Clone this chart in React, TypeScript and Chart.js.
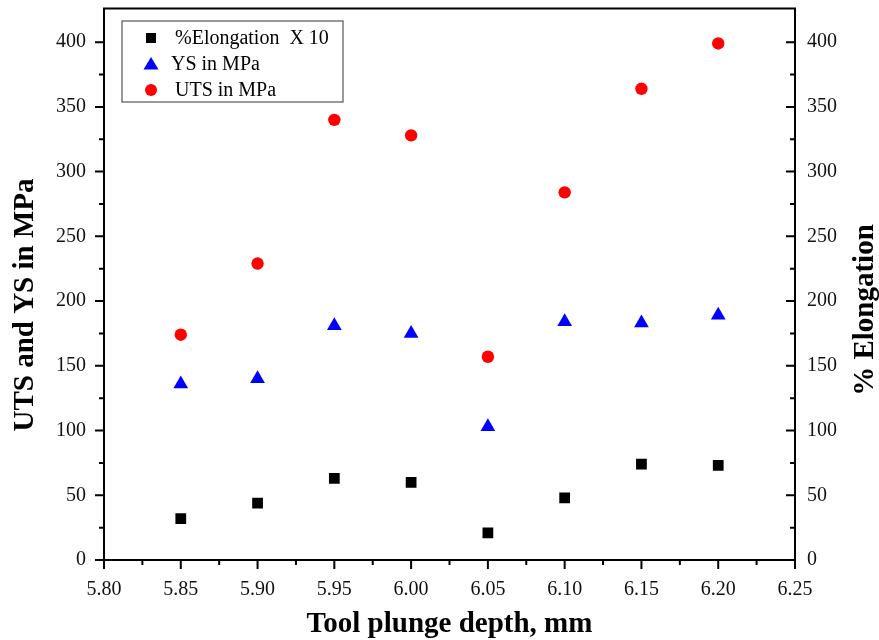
import React, { useEffect, useRef } from "react";
import { Chart, registerables } from "chart.js";

Chart.register(...registerables);

// ---- data ----
const depthMM = [5.85, 5.9, 5.95, 6.0, 6.05, 6.1, 6.15, 6.2];
const elongationX10 = [32, 44, 63, 60, 21, 48, 74, 73];
const ysMPa = [136, 140, 181, 175, 103, 184, 183, 189];
const utsMPa = [174, 229, 340, 328, 157, 284, 364, 399];

const xTickValues = [5.8, 5.85, 5.9, 5.95, 6.0, 6.05, 6.1, 6.15, 6.2, 6.25];
const yTickValues = [0, 50, 100, 150, 200, 250, 300, 350, 400];

const seriesLabels = ["%Elongation  X 10", "YS in MPa", "UTS in MPa"];
const xTitle = "Tool plunge depth, mm";
const yTitle = "UTS and YS in MPa";
const y2Title = "% Elongation";

const FONT = '"Liberation Serif", "Times New Roman", serif';

const framePlugin = {
  id: "frameAndDecor",
  afterDraw(chart: any) {
    const ctx = chart.ctx;
    const { left, right, top, bottom } = chart.chartArea;
    const xs = chart.scales.x;
    const ys = chart.scales.y;
    ctx.save();
    ctx.strokeStyle = "#000";
    ctx.lineWidth = 2;
    ctx.strokeRect(left, top, right - left, bottom - top);

    ctx.lineWidth = 2;
    ctx.beginPath();
    // x ticks (outward)
    for (let i = 0; i < xTickValues.length; i++) {
      const px = xs.getPixelForValue(xTickValues[i]);
      ctx.moveTo(px, bottom);
      ctx.lineTo(px, bottom + 9);
      if (i < xTickValues.length - 1) {
        const mx = xs.getPixelForValue((xTickValues[i] + xTickValues[i + 1]) / 2);
        ctx.moveTo(mx, bottom);
        ctx.lineTo(mx, bottom + 5);
      }
    }
    // y ticks: left outward, right inward
    for (let i = 0; i < yTickValues.length; i++) {
      const py = ys.getPixelForValue(yTickValues[i]);
      ctx.moveTo(left, py);
      ctx.lineTo(left - 9, py);
      ctx.moveTo(right, py);
      ctx.lineTo(right - 9, py);
      const mv = yTickValues[i] + 25;
      const my = ys.getPixelForValue(mv);
      if (my > top + 2) {
        ctx.moveTo(left, my);
        ctx.lineTo(left - 5, my);
        ctx.moveTo(right, my);
        ctx.lineTo(right - 5, my);
      }
    }
    ctx.stroke();

    // axis titles
    ctx.fillStyle = "#000";
    ctx.font = `bold 29px ${FONT}`;
    ctx.textAlign = "center";
    ctx.textBaseline = "alphabetic";
    ctx.fillText(xTitle, (left + right) / 2, 632);

    ctx.save();
    ctx.translate(26, 305);
    ctx.rotate(-Math.PI / 2);
    ctx.textBaseline = "middle";
    ctx.fillText(yTitle, 0, 0);
    ctx.restore();

    ctx.save();
    ctx.translate(866, 310);
    ctx.rotate(-Math.PI / 2);
    ctx.textBaseline = "middle";
    ctx.fillText(y2Title, 0, 0);
    ctx.restore();

    // legend box
    const bx = 122, by = 21, bw = 221, bh = 81;
    ctx.lineWidth = 1.2;
    ctx.strokeStyle = "#555";
    ctx.strokeRect(bx, by, bw, bh);
    const rowsY = [38, 64, 90];
    const textX = [175, 171, 175];
    chart.data.datasets.forEach((ds: any, i: number) => {
      const cx = 151;
      const cy = rowsY[i];
      ctx.fillStyle = ds.backgroundColor;
      ctx.beginPath();
      if (ds.pointStyle === "rect") {
        ctx.rect(cx - 5, cy - 5, 10, 10);
      } else if (ds.pointStyle === "triangle") {
        ctx.moveTo(cx, cy - 7);
        ctx.lineTo(cx + 7.5, cy + 5.5);
        ctx.lineTo(cx - 7.5, cy + 5.5);
        ctx.closePath();
      } else {
        ctx.arc(cx, cy, 6, 0, Math.PI * 2);
      }
      ctx.fill();
      ctx.fillStyle = "#000";
      ctx.font = `20px ${FONT}`;
      ctx.textAlign = "left";
      ctx.textBaseline = "middle";
      ctx.fillText(ds.label, textX[i], cy + 1);
    });
    ctx.restore();
  },
};

export default function App() {
  const ref = useRef<HTMLCanvasElement | null>(null);
  useEffect(() => {
    document.body.style.margin = "0";
    const canvas = ref.current;
    if (!canvas) return;
    const pts = (vals: number[]) => depthMM.map((x, i) => ({ x, y: vals[i] }));
    const tickFont = { family: FONT, size: 20 };
    const fixY = (w: number) => (s: any) => {
      s.width = w;
      s.paddingTop = 0;
      s.paddingBottom = 0;
    };
    const chart = new Chart(canvas, {
      type: "scatter",
      data: {
        datasets: [
          {
            label: seriesLabels[0],
            data: pts(elongationX10),
            pointStyle: "rect",
            pointRadius: 7.6,
            backgroundColor: "#000000",
            borderColor: "#000000",
            borderWidth: 0,
            yAxisID: "y2",
          },
          {
            label: seriesLabels[1],
            data: pts(ysMPa),
            pointStyle: "triangle",
            pointRadius: 8.5,
            backgroundColor: "#0000ff",
            borderColor: "#0000ff",
            borderWidth: 0,
            yAxisID: "y",
          },
          {
            label: seriesLabels[2],
            data: pts(utsMPa),
            pointStyle: "circle",
            pointRadius: 6.2,
            backgroundColor: "#ff0000",
            borderColor: "#ff0000",
            borderWidth: 0,
            yAxisID: "y",
          },
        ],
      },
      options: {
        responsive: false,
        animation: false,
        layout: { padding: { top: 8, left: 0, right: 0, bottom: 0 } },
        plugins: { legend: { display: false }, tooltip: { enabled: false } },
        scales: {
          x: {
            type: "linear",
            min: 5.8,
            max: 6.25,
            afterBuildTicks: (s: any) => {
              s.ticks = xTickValues.map((v) => ({ value: v }));
            },
            afterFit: (s: any) => {
              s.height = 80;
              s.paddingLeft = 0;
              s.paddingRight = 0;
            },
            grid: { display: false, drawTicks: false },
            border: { display: false },
            ticks: {
              font: tickFont,
              color: "#111",
              padding: 18,
              maxRotation: 0,
              autoSkip: false,
              callback: (v: any) => Number(v).toFixed(2),
            },
          },
          y: {
            type: "linear",
            position: "left",
            min: 0,
            max: 426,
            afterBuildTicks: (s: any) => {
              s.ticks = yTickValues.map((v) => ({ value: v }));
            },
            afterFit: fixY(104),
            grid: { display: false, drawTicks: false },
            border: { display: false },
            ticks: { font: tickFont, color: "#111", padding: 18 },
          },
          y2: {
            type: "linear",
            position: "right",
            min: 0,
            max: 426,
            afterBuildTicks: (s: any) => {
              s.ticks = yTickValues.map((v) => ({ value: v }));
            },
            afterFit: fixY(84),
            grid: { display: false, drawTicks: false },
            border: { display: false },
            ticks: { font: tickFont, color: "#111", padding: 12 },
          },
        },
      },
      plugins: [framePlugin],
    } as any);
    return () => chart.destroy();
  }, []);
  return (
    <canvas
      ref={ref}
      width={879}
      height={640}
      style={{ display: "block", width: 879, height: 640 }}
    />
  );
}
